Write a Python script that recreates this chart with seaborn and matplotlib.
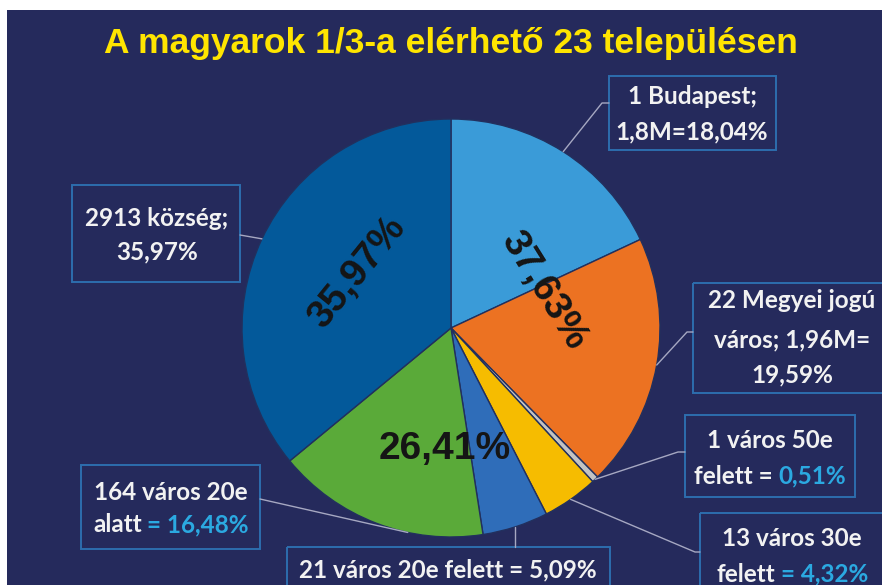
import numpy as np
import pandas as pd
import seaborn as sns
import matplotlib.pyplot as plt
from matplotlib.patches import Rectangle
from matplotlib.offsetbox import TextArea, HPacker, AnnotationBbox

# slices, clockwise from the top
categories = ['1 Budapest', '22 Megyei jogú város', '1 város 50e felett',
              '13 város 30e felett', '21 város 20e felett',
              '164 város 20e alatt', '2913 község']
shares = [18.04, 19.59, 0.51, 4.32, 5.09, 16.48, 35.97]
slice_colors = ['#3A9BD8', '#EC7222', '#C3C3C3', '#F6BC00', '#2F6DB9', '#5AAA39', '#03599A']

# big labels inside the pie (grouped slices)
group_labels = ['37,63%', '26,41%', '35,97%']
group_members = [[0, 1], [2, 3, 4, 5], [6]]

# callout texts: list of lines, each line = list of (text, accent?)
callout_lines = [
    [[('1 Budapest;', False)], [('1,8M=18,04%', False)]],
    [[('22 Megyei jogú', False)], [('város; 1,96M=', False)], [('19,59%', False)]],
    [[('1 város 50e', False)], [('felett =', False), ('0,51%', True)]],
    [[('13 város 30e', False)], [('felett', False), ('= 4,32%', True)]],
    [[('21 város 20e felett = 5,09%', False)]],
    [[('164 város 20e', False)], [('alatt', False), ('= 16,48%', True)]],
    [[('2913 község;', False)], [('35,97%', False)]],
]

df = pd.DataFrame({'category': categories, 'share': shares, 'color': slice_colors})

BG = '#252A5C'
W, H = 882, 585
sns.set_style('white')
plt.rcParams['font.family'] = ['Lato', 'DejaVu Sans']

fig = plt.figure(figsize=(W / 100, H / 100), dpi=100)
fig.patch.set_facecolor('white')

# navy background panel
bg = fig.add_axes([7 / W, 0, 1 - 7 / W, (H - 10) / H], zorder=-1)
bg.set_facecolor(BG)
bg.set_xticks([])
bg.set_yticks([])
for s in bg.spines.values():
    s.set_visible(False)

# pie axes, centre (451, 328) px, radius 209 px
cx, cy, R = 451, 328, 209
ax = fig.add_axes([(cx - R) / W, (H - cy - R) / H, 2 * R / W, 2 * R / H])
ax.pie(df['share'], colors=df['color'], startangle=90, counterclock=False,
       wedgeprops=dict(edgecolor='#22305E', linewidth=1.0))
ax.set_xlim(-1, 1)
ax.set_ylim(-1, 1)
ax.set_facecolor('none')

cum = np.concatenate([[0], np.cumsum(shares)]) / 100.0


def edge_point(frac, r=1.0):
    # pixel coords of a point on the pie at fraction frac (clockwise from top)
    a = 2 * np.pi * frac
    return cx + r * R * np.sin(a), cy - r * R * np.cos(a)


# overlay axes in pixel coordinates
ov = fig.add_axes([0, 0, 1, 1])
ov.set_xlim(0, W)
ov.set_ylim(H, 0)
ov.axis('off')
ov.patch.set_alpha(0)

# group labels inside pie
group_style = [(0.48, -58), (0.58, 0), (0.52, 51)]
group_shift = [0.0, 0.0, 0.015]
for lab, mem, (rr, rot), sh in zip(group_labels, group_members, group_style, group_shift):
    mid = (cum[mem[0]] + cum[mem[-1] + 1]) / 2 + sh
    x, y = edge_point(mid, rr)
    ov.text(x, y, lab, ha='center', va='center', rotation=rot, rotation_mode='anchor',
            fontsize=28, fontweight='bold', color='#151515', family='Liberation Sans')

# callout boxes: (x, y, w, h), text centre x, line ys, box anchor, elbow x, slice anchor fraction
boxes = [
    ((609, 76, 167, 74), 692, [97, 132], (609, 103), 602, 0.5),
    ((693, 283, 192, 110), 792, [300, 340, 375], (693, 332), 687, 0.5),
    ((685, 415, 170, 82), 770, [440, 476], (685, 452), 678, 0.5),
    ((700, 513, 190, 80), 792, [539, 574], (700, 552), 695, 0.5),
    ((287, 547, 323, 45), 448, [570], (515, 547), None, 0.1),
    ((81, 465, 179, 84), 171, [493, 525], (260, 499), None, 0.35),
    ((72, 185, 168, 97), 157, [219, 252], (240, 235), None, 0.5),
]

for i, (rect, tx, ys, anchor, elbow, af) in enumerate(boxes):
    x0, y0, w, h = rect
    ov.add_patch(Rectangle((x0, y0), w, h, facecolor='none', edgecolor='#2D6DAE', linewidth=1.4))
    frac = cum[i] + af * (cum[i + 1] - cum[i])
    if i == 4:
        px = anchor[0]
        py = cy + np.sqrt(R ** 2 - (px - cx) ** 2)
    else:
        px, py = edge_point(frac)
    if elbow is None:
        xs, yv = [anchor[0], px], [anchor[1], py]
    else:
        xs, yv = [anchor[0], elbow, px], [anchor[1], anchor[1], py]
    ov.plot(xs, yv, color='#A6A8C2', linewidth=1.0)

    for line, y in zip(callout_lines[i], ys):
        parts = [TextArea(t, textprops=dict(color='#2BA9E1' if acc else '#F2F2F2',
                                             fontsize=17.5, fontweight='bold'))
                 for t, acc in line]
        pk = HPacker(children=parts, sep=4, pad=0, align='baseline')
        ab = AnnotationBbox(pk, (tx, y), xycoords='data', frameon=False,
                            box_alignment=(0.5, 0.5), pad=0)
        ov.add_artist(ab)

# title
ov.text(451, 43, 'A magyarok 1/3-a elérhető 23 településen', ha='center', va='center',
        fontsize=25.5, fontweight='bold', color='#FFE500', family='Liberation Sans')

fig.savefig('out.png', dpi=100, facecolor=fig.get_facecolor())
